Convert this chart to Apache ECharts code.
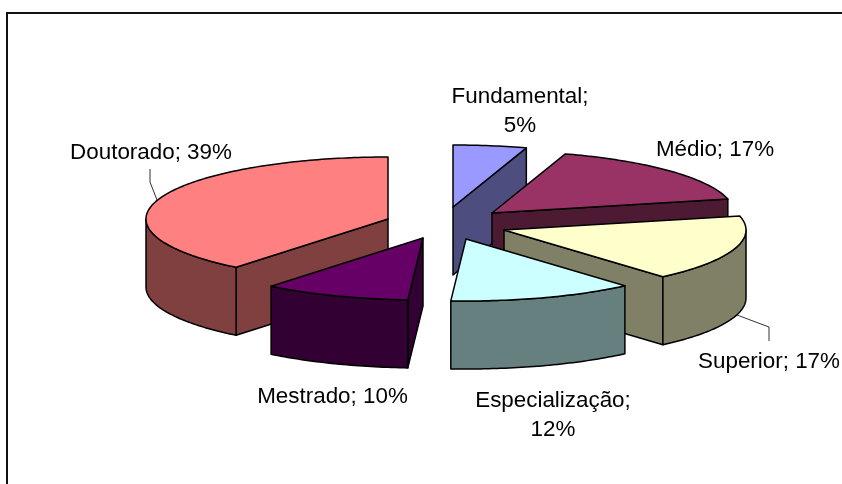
<!DOCTYPE html>
<html>
<head>
<meta charset="utf-8">
<title>Escolaridade</title>
<script src="https://cdn.jsdelivr.net/npm/echarts@6/dist/echarts.min.js"></script>
<style>
  html, body { margin: 0; padding: 0; background: #fff; }
  #chart { width: 842px; height: 484px; }
</style>
</head>
<body>
<div id="chart"></div>
<script>
const categories = ['Fundamental', 'Médio', 'Superior', 'Especialização', 'Mestrado', 'Doutorado']
// labels only show whole percents, decimals
const values = [4.9, 16.5, 17.2, 12.4, 9.8, 39.2]

// 3D look: top ellipse and wall height
const radiusX = 242
const radiusY = 62
const depth = 68

// layout per slice, same order as categories (Excel explodes them a bit unevenly)
const sliceCentres = [[453, 207], [492, 213], [504, 230], [466, 239], [423, 238], [388, 219]]
const topColors = ['#9999ff', '#993366', '#ffffcc', '#ccffff', '#660066', '#ff8080']
const sideColors = ['#4d4d80', '#4d1a33', '#808066', '#668080', '#330033', '#804040']
const labelPlaces = [
  { x: 520, y: 111, wrap: true },
  { x: 715, y: 150 },
  { x: 769, y: 362 },
  { x: 553, y: 415, wrap: true },
  { x: 332.5, y: 397 },
  { x: 151, y: 153 }
]
const leaders = [null, null, [[737, 315], [769, 327], [769, 341]], null, null, [[150, 169], [150, 182], [157, 200]]]

// painter's order, back slices first
const drawOrder = [0, 5, 1, 2, 4, 3]

const total = values.reduce((a, b) => a + b, 0)
const toRad = (deg) => (deg * Math.PI) / 180

const startAngles = []
values.reduce((sum, v, i) => {
  startAngles[i] = (sum / total) * 360
  return sum + v
}, 0)

const renderSlice = (params, api) => {
  const i = api.value(0)
  const start = api.value(2)
  const end = api.value(3)
  const [cx, cy] = sliceCentres[i]
  const rimPoint = (deg) => [cx + radiusX * Math.sin(toRad(deg)), cy - radiusY * Math.cos(toRad(deg))]
  const arc = (from, to) => {
    const pts = []
    const steps = Math.max(2, Math.ceil(to - from))
    for (let s = 0; s <= steps; s++) pts.push(rimPoint(from + ((to - from) * s) / steps))
    return pts
  }
  const lowered = (pts) => pts.map((p) => [p[0], p[1] + depth])
  const face = (points, fill) => ({
    type: 'polygon',
    shape: { points },
    style: { fill, stroke: '#000', lineWidth: 1.5, lineJoin: 'round' }
  })

  const children = []
  const wall = (deg) => {
    const top = [[cx, cy], rimPoint(deg)]
    children.push(face(top.concat(lowered(top).reverse()), sideColors[i]))
  }
  // flat cut faces, only those turned towards the viewer
  if (Math.sin(toRad(start)) < -1e-6) wall(start)
  if (Math.sin(toRad(end)) > 1e-6) wall(end)

  // curved outer wall is visible on the front half only
  const frontFrom = Math.max(start, 90)
  const frontTo = Math.min(end, 270)
  if (frontTo > frontFrom) {
    const rim = arc(frontFrom, frontTo)
    children.push(face(rim.concat(lowered(rim).reverse()), sideColors[i]))
  }

  children.push(face([[cx, cy]].concat(arc(start, end)), topColors[i]))

  if (leaders[i]) {
    children.push({
      type: 'polyline',
      shape: { points: leaders[i] },
      style: { fill: null, stroke: '#333', lineWidth: 1 }
    })
  }
  const place = labelPlaces[i]
  children.push({
    type: 'text',
    style: {
      text: categories[i] + ';' + (place.wrap ? '\n' : ' ') + Math.round(values[i]) + '%',
      x: place.x,
      y: place.y,
      align: 'center',
      verticalAlign: 'middle',
      fill: '#000',
      font: '22.4px "Liberation Sans"',
      lineHeight: 29
    }
  })
  return { type: 'group', children }
}

const chart = echarts.init(document.getElementById('chart'))
chart.setOption({
  animation: false,
  backgroundColor: '#fff',
  graphic: [
    {
      type: 'rect',
      z: -1,
      shape: { x: 7, y: 13, width: 900, height: 600 },
      style: { fill: '#fff', stroke: '#111', lineWidth: 2 }
    }
  ],
  series: [
    {
      type: 'custom',
      coordinateSystem: 'none',
      renderItem: renderSlice,
      data: drawOrder.map((i) => [i, values[i], startAngles[i], startAngles[i] + (values[i] / total) * 360])
    }
  ]
})
</script>
</body>
</html>
